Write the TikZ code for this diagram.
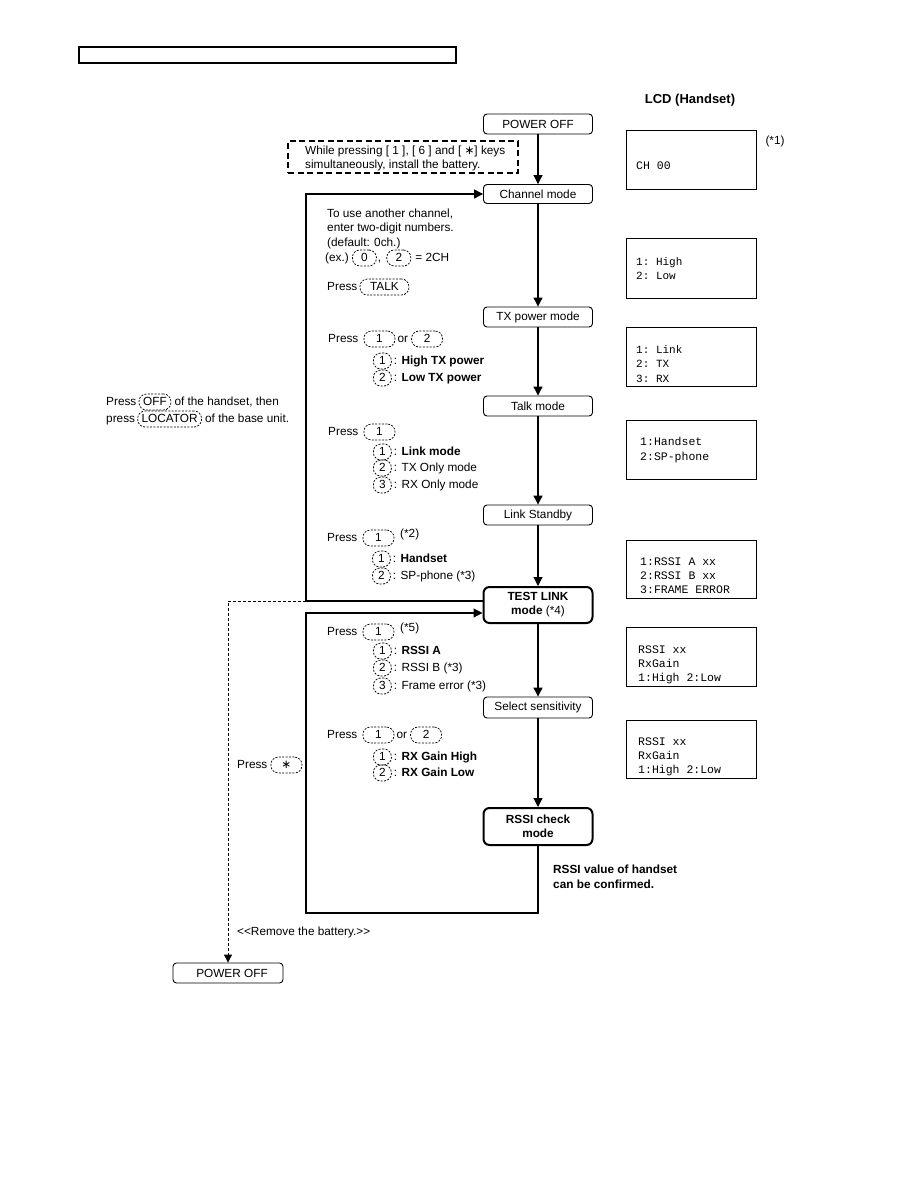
\documentclass[tikz,border=0pt]{standalone}
\usepackage{fontspec}
\setmainfont{Liberation Sans}
\setmonofont{Liberation Mono}
\newfontfamily\symfont{DejaVu Sans}
\usetikzlibrary{arrows.meta,positioning}
\begin{document}
\begin{tikzpicture}[x=1pt,y=-1pt,
  base/.style={font=\fontsize{11.8}{14}\selectfont},
  txt/.style={base, anchor=west, inner sep=0pt, text height=8.6pt, text depth=2.4pt},
  key/.style={base, draw, dash pattern=on 2pt off 1.4pt, line width=0.75pt, rounded corners=7.5pt, inner xsep=3pt, inner ysep=0pt, minimum height=16pt, text height=8.6pt, text depth=2.4pt, anchor=west},
  skey/.style={key, minimum width=18pt, inner xsep=1pt},
  pkey/.style={key, minimum width=31pt},
  mode/.style={base, draw, line width=0.9pt, rounded corners=3.5pt, minimum width=109pt, minimum height=20pt, inner sep=0pt},
  bigmode/.style={mode, line width=2pt, rounded corners=6pt, align=center, font=\fontsize{11.8}{14}\selectfont\bfseries},
  lcd/.style={draw, line width=1pt, minimum width=130pt, inner sep=0pt},
  mono/.style={anchor=west, inner sep=0pt, font=\fontsize{11.5}{13}\selectfont\ttfamily, text height=7pt, text depth=2pt},
  smono/.style={mono, font=\fontsize{11}{13}\selectfont\ttfamily},
  flow/.style={line width=1.1pt, -{Triangle[length=9pt,width=9pt]}},
]
\useasboundingbox (0,0) rectangle (918,1188);

% header
\node[draw, line width=1.2pt, minimum width=377pt, minimum height=16pt, inner sep=0pt] (hdr) at (267.5,55) {};
\node[font=\fontsize{13}{15}\selectfont\bfseries] (lcdt) at (690,100) {LCD (Handset)};

% mode boxes
\node[mode] (pw1) at (538,124) {POWER OFF};
\node[mode, minimum height=19pt] (ch) at (538,194) {Channel mode};
\node[mode] (tx) at (538,317) {TX power mode};
\node[mode] (talk) at (538,406) {Talk mode};
\node[mode] (ls) at (538,515) {Link Standby};
\node[bigmode, minimum height=36pt] (test) at (538,605) {TEST LINK\\mode \textmd{(*4)}};
\node[mode, minimum height=21pt] (sel) at (538,707.5) {Select sensitivity};
\node[bigmode, minimum height=37pt] (rssi) at (538,826.5) {RSSI check\\mode};
\node[mode, minimum width=110pt] (pw2) at (228,973) {\hspace{8pt}POWER OFF};

% note box
\node[draw, dash pattern=on 6pt off 3.5pt, line width=1.1pt, minimum width=230pt, minimum height=32pt, inner sep=0pt] (note) at (403,157) {};
\node[base, anchor=west, align=left, inner sep=0pt] (notet) at (305,158) {While pressing [ 1 ], [ 6 ] and [ {\symfont ∗}] keys\\simultaneously, install the battery.};

% main arrows
\draw[flow] (pw1) -- (ch);
\draw[flow] (ch) -- (tx);
\draw[flow] (tx) -- (talk);
\draw[flow] (talk) -- (ls);
\draw[flow] (ls) -- (test);
\draw[flow] (test) -- (sel);
\draw[flow] (sel) -- (rssi);

% loops
\coordinate (loopL) at (306,601);
\coordinate (dashC) at (228,601);
\coordinate (botL) at (306,913);
\coordinate (botR) at (538,913);
\draw[flow] ([yshift=4pt]test.west) -- (loopL) |- (ch.west);
\draw[flow] (rssi.south) -- (botR) -- (botL) |- ([yshift=-8pt]test.west);
\draw[line width=1pt, dash pattern=on 3pt off 2pt, -{Triangle[length=8pt,width=8pt]}] (loopL) -- (dashC) -- (pw2.north);

% LCD boxes
\node[lcd, minimum height=58pt] (l1) at (691,160) {};
\node[lcd, minimum height=60pt] (l2) at (691,268) {};
\node[lcd, minimum height=59pt] (l3) at (691,356.5) {};
\node[lcd, minimum height=59pt] (l4) at (691,449.5) {};
\node[lcd, minimum height=58pt] (l5) at (691,569) {};
\node[lcd, minimum height=59pt] (l6) at (691,656.5) {};
\node[lcd, minimum height=58pt] (l7) at (691,749) {};
\node[base] (n1) at (775,141) {(*1)};
\node[mono] (l1a) at (636,167) {CH 00};
\node[smono] (l2a) at (636,263) {1: High};
\node[smono] (l2b) at (636,277) {2: Low};
\node[smono] (l3a) at (636,351) {1: Link};
\node[smono] (l3b) at (636,365) {2: TX};
\node[smono] (l3c) at (636,380) {3: RX};
\node[mono] (l4a) at (640,443) {1:Handset};
\node[mono] (l4b) at (640,458) {2:SP-phone};
\node[mono] (l5a) at (640,563) {1:RSSI A xx};
\node[mono] (l5b) at (640,577) {2:RSSI B xx};
\node[mono] (l5c) at (640,591) {3:FRAME ERROR};
\node[mono] (l6a) at (638,651) {RSSI xx};
\node[mono] (l6b) at (638,665) {RxGain};
\node[mono] (l6c) at (638,679) {1:High 2:Low};
\node[mono] (l7a) at (638,743) {RSSI xx};
\node[mono] (l7b) at (638,757) {RxGain};
\node[mono] (l7c) at (638,771) {1:High 2:Low};

% channel mode text
\node[txt] (c1) at (327,214) {To use another channel,};
\node[txt] (c2) at (327,228) {enter two-digit numbers.};
\node[txt] (c3) at (327,243) {(default: 0ch.)};
\node[txt] (c4) at (325,258) {(ex.)};
\node[key, minimum width=24pt, right=3pt of c4] (c4k1) {0};
\node[txt, right=1pt of c4k1] (c4a) {,};
\node[key, minimum width=24pt, right=5pt of c4a] (c4k2) {2};
\node[txt, right=4pt of c4k2] (c4b) {= 2CH};
\node[txt] (t1) at (327,287) {Press};
\node[key, minimum width=49pt, right=2pt of t1] (t1k) {TALK};

% TX power text
\node[txt] (x1) at (328,339) {Press};
\node[pkey, right=5pt of x1] (x1k1) {1};
\node[txt, right=2pt of x1k1] (x1a) {or};
\node[pkey, right=3pt of x1a] (x1k2) {2};
\node[skey] (x2k) at (373,361) {1};
\node[txt, right=2pt of x2k] (x2) {: \textbf{High TX power}};
\node[skey] (x3k) at (373,378) {2};
\node[txt, right=2pt of x3k] (x3) {: \textbf{Low TX power}};

% talk mode text
\node[txt] (a1) at (328,432) {Press};
\node[pkey, right=5pt of a1] (a1k) {1};
\node[skey] (a2k) at (373,452) {1};
\node[txt, right=2pt of a2k] (a2) {: \textbf{Link mode}};
\node[skey] (a3k) at (373,468) {2};
\node[txt, right=2pt of a3k] (a3) {: TX Only mode};
\node[skey] (a4k) at (373,485) {3};
\node[txt, right=2pt of a4k] (a4) {: RX Only mode};

% link standby text
\node[txt] (s1) at (327,538) {Press};
\node[pkey, right=5pt of s1] (s1k) {1};
\node[txt] (s1n) at (400,534) {(*2)};
\node[skey] (s2k) at (372,559) {1};
\node[txt, right=2pt of s2k] (s2) {: \textbf{Handset}};
\node[skey] (s3k) at (372,576) {2};
\node[txt, right=2pt of s3k] (s3) {: SP-phone (*3)};

% test link text
\node[txt] (r1) at (327,632) {Press};
\node[pkey, right=5pt of r1] (r1k) {1};
\node[txt] (r1n) at (400,628) {(*5)};
\node[skey] (r2k) at (373,651) {1};
\node[txt, right=2pt of r2k] (r2) {: \textbf{RSSI A}};
\node[skey] (r3k) at (373,668) {2};
\node[txt, right=2pt of r3k] (r3) {: RSSI B (*3)};
\node[skey] (r4k) at (373,686) {3};
\node[txt, right=2pt of r4k] (r4) {: Frame error (*3)};

% select sensitivity text
\node[txt] (g1) at (327,735) {Press};
\node[pkey, right=5pt of g1] (g1k1) {1};
\node[txt, right=2pt of g1k1] (g1a) {or};
\node[pkey, right=3pt of g1a] (g1k2) {2};
\node[skey] (g2k) at (373,757) {1};
\node[txt, right=2pt of g2k] (g2) {: \textbf{RX Gain High}};
\node[skey] (g3k) at (373,773) {2};
\node[txt, right=2pt of g3k] (g3) {: \textbf{RX Gain Low}};

% press star
\node[txt] (ps) at (237,765) {Press};
\node[pkey, right=3pt of ps] (psk) {{\symfont ∗}};

% left text
\node[txt] (o1) at (106,402) {Press};
\node[key, minimum width=32pt, right=2pt of o1] (o1k) {OFF};
\node[txt, right=3pt of o1k] (o1a) {of the handset, then};
\node[txt] (o2) at (106,419) {press};
\node[key, inner xsep=4pt, right=2pt of o2] (o2k) {LOCATOR};
\node[txt, right=3pt of o2k] (o2a) {of the base unit.};

% bottom texts
\node[txt, font=\fontsize{11.8}{14}\selectfont\bfseries] (rv1) at (553,870) {RSSI value of handset};
\node[txt, font=\fontsize{11.8}{14}\selectfont\bfseries] (rv2) at (553,885) {can be confirmed.};
\node[txt] (rem) at (237,932) {<{}<Remove the battery.>{}>};
\end{tikzpicture}
\end{document}
